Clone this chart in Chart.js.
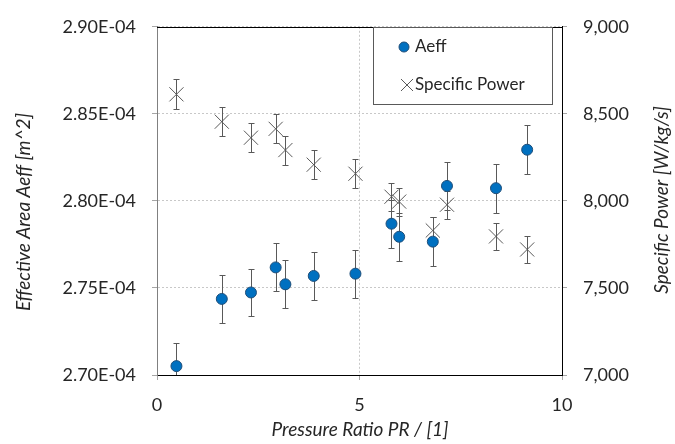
<!DOCTYPE html>
<html>
<head>
<meta charset="utf-8">
<script src="https://cdn.jsdelivr.net/npm/chart.js@4/dist/chart.umd.min.js"></script>
<style>
  body { margin: 0; background: #fff; }
</style>
</head>
<body>
<canvas id="prChart" width="675" height="444"></canvas>
<script>
// Pressure ratio vs effective area / specific power
const pressureRatio = [0.48, 1.60, 2.32, 2.93, 3.17, 3.87, 4.90, 5.79, 5.98, 6.81, 7.16, 8.37, 9.14];
const aeff = [2.7051e-4, 2.7437e-4, 2.7474e-4, 2.7618e-4, 2.7521e-4, 2.7569e-4, 2.7582e-4,
              2.7869e-4, 2.7794e-4, 2.7766e-4, 2.8086e-4, 2.8073e-4, 2.8294e-4];
const aeffErr = [1.35e-6, 1.37e-6, 1.37e-6, 1.38e-6, 1.38e-6, 1.38e-6, 1.38e-6,
                 1.39e-6, 1.39e-6, 1.39e-6, 1.40e-6, 1.40e-6, 1.41e-6];
const specificPower = [8612, 8455, 8363, 8414, 8292, 8208, 8156, 8024, 7996, 7830, 7978, 7796, 7721];
const powerErr = [86, 85, 84, 84, 83, 82, 82, 80, 80, 78, 80, 78, 77];

const xTicks = [0, 5, 10];
const aeffTicks = [2.70e-4, 2.75e-4, 2.80e-4, 2.85e-4, 2.90e-4];
const powerTicks = [7000, 7500, 8000, 8500, 9000];

const FONT = 'Lato, "Open Sans", sans-serif';
const TEXT = '#262626';

function sci(v) {
    const parts = v.toExponential(2).split('e');
    const n = parseInt(parts[1], 10);
    return parts[0] + 'E' + (n < 0 ? '-' : '+') + String(Math.abs(n)).padStart(2, '0');
}

function toPoints(xs, ys) {
    return xs.map((x, i) => ({ x: x, y: ys[i] }));
}

// error bars, drawn under the markers
const errorBars = {
    id: 'errorBars',
    beforeDatasetsDraw(chart) {
        const ctx = chart.ctx;
        const area = chart.chartArea;
        const sets = [
            { ys: aeff, err: aeffErr, scale: chart.scales.y },
            { ys: specificPower, err: powerErr, scale: chart.scales.y1 }
        ];
        ctx.save();
        ctx.beginPath();
        ctx.rect(area.left, area.top, area.right - area.left, area.bottom - area.top);
        ctx.clip();
        ctx.strokeStyle = '#595959';
        ctx.lineWidth = 1;
        sets.forEach(s => {
            pressureRatio.forEach((x, i) => {
                const px = Math.round(chart.scales.x.getPixelForValue(x)) + 0.5;
                const top = Math.round(s.scale.getPixelForValue(s.ys[i] + s.err[i])) + 0.5;
                const bot = Math.round(s.scale.getPixelForValue(s.ys[i] - s.err[i])) + 0.5;
                ctx.beginPath();
                ctx.moveTo(px, top);
                ctx.lineTo(px, bot);
                ctx.moveTo(px - 3, top);
                ctx.lineTo(px + 3, top);
                ctx.moveTo(px - 3, bot);
                ctx.lineTo(px + 3, bot);
                ctx.stroke();
            });
        });
        ctx.restore();
    }
};

// frame top line, axis titles and the boxed legend
const decorations = {
    id: 'decorations',
    afterDraw(chart) {
        const ctx = chart.ctx;
        const a = chart.chartArea;
        ctx.save();
        ctx.strokeStyle = '#000';
        ctx.lineWidth = 1;
        ctx.beginPath();
        ctx.moveTo(a.left, Math.round(a.top) + 0.5);
        ctx.lineTo(a.right + 0.5, Math.round(a.top) + 0.5);
        ctx.stroke();

        ctx.fillStyle = TEXT;
        ctx.font = 'italic 19px ' + FONT;
        ctx.textAlign = 'center';
        ctx.textBaseline = 'middle';
        ctx.fillText('Pressure Ratio PR / [1]', 360, 430);

        ctx.save();
        ctx.translate(24, 212);
        ctx.rotate(-Math.PI / 2);
        ctx.fillText('Effective Area Aeff [m^2]', 0, 0);
        ctx.restore();

        ctx.save();
        ctx.translate(662, 200);
        ctx.rotate(-Math.PI / 2);
        ctx.fillText('Specific Power [W/kg/s]', 0, 0);
        ctx.restore();

        // legend
        ctx.fillStyle = '#fff';
        ctx.fillRect(373.5, 27.5, 179, 77);
        ctx.strokeStyle = '#595959';
        ctx.strokeRect(373.5, 27.5, 179, 77);
        ctx.fillStyle = '#0070C0';
        ctx.strokeStyle = '#1F4E79';
        ctx.beginPath();
        ctx.arc(404, 47, 5, 0, Math.PI * 2);
        ctx.fill();
        ctx.stroke();
        ctx.strokeStyle = '#595959';
        Chart.helpers.drawPoint(ctx, { pointStyle: 'crossRot', radius: 8.5, borderWidth: 1 }, 407, 85);
        ctx.fillStyle = TEXT;
        ctx.font = '17px ' + FONT;
        ctx.textAlign = 'left';
        ctx.fillText('Aeff', 415, 47);
        ctx.fillText('Specific Power', 415, 85);
        ctx.restore();
    }
};

const ctx = document.getElementById('prChart').getContext('2d');
const prChart = new Chart(ctx, {
    type: 'scatter',
    data: {
        datasets: [{
            label: 'Aeff',
            data: toPoints(pressureRatio, aeff),
            yAxisID: 'y',
            pointStyle: 'circle',
            pointRadius: 5.5,
            backgroundColor: '#0070C0',
            borderColor: '#1F4E79',
            borderWidth: 1
        }, {
            label: 'Specific Power',
            data: toPoints(pressureRatio, specificPower),
            yAxisID: 'y1',
            pointStyle: 'crossRot',
            pointRadius: 10,
            borderColor: '#595959',
            borderWidth: 1
        }]
    },
    options: {
        responsive: false,
        animation: false,
        layout: { padding: { top: 19, left: 0, right: 0, bottom: 0 } },
        plugins: {
            legend: { display: false },
            tooltip: { enabled: false }
        },
        scales: {
            x: {
                type: 'linear',
                min: 0,
                max: 10,
                afterBuildTicks: s => { s.ticks = xTicks.map(v => ({ value: v })); },
                afterFit: s => { s.height = 69; },
                ticks: { color: TEXT, font: { family: FONT, size: 18 }, padding: 14, maxRotation: 0 },
                grid: { color: '#c8c8c8', tickColor: '#a6a6a6', tickLength: 5 },
                border: { color: '#000', dash: [2, 2] }
            },
            y: {
                position: 'left',
                min: 2.70e-4,
                max: 2.90e-4,
                afterBuildTicks: s => { s.ticks = aeffTicks.map(v => ({ value: v })); },
                afterFit: s => { s.width = 157; },
                ticks: { color: TEXT, font: { family: FONT, size: 18 }, padding: 16, callback: v => sci(v) },
                grid: { color: '#c8c8c8', tickColor: '#a6a6a6', tickLength: 5 },
                border: { color: '#808080', dash: [2, 2] }
            },
            y1: {
                position: 'right',
                min: 7000,
                max: 9000,
                afterBuildTicks: s => { s.ticks = powerTicks.map(v => ({ value: v })); },
                afterFit: s => { s.width = 113; },
                ticks: { color: TEXT, font: { family: FONT, size: 18 }, padding: 16,
                         callback: v => v.toLocaleString('en-US') },
                grid: { drawOnChartArea: false, tickColor: '#a6a6a6', tickLength: 5 },
                border: { color: '#000' }
            }
        }
    },
    plugins: [errorBars, decorations]
});
</script>
</body>
</html>
